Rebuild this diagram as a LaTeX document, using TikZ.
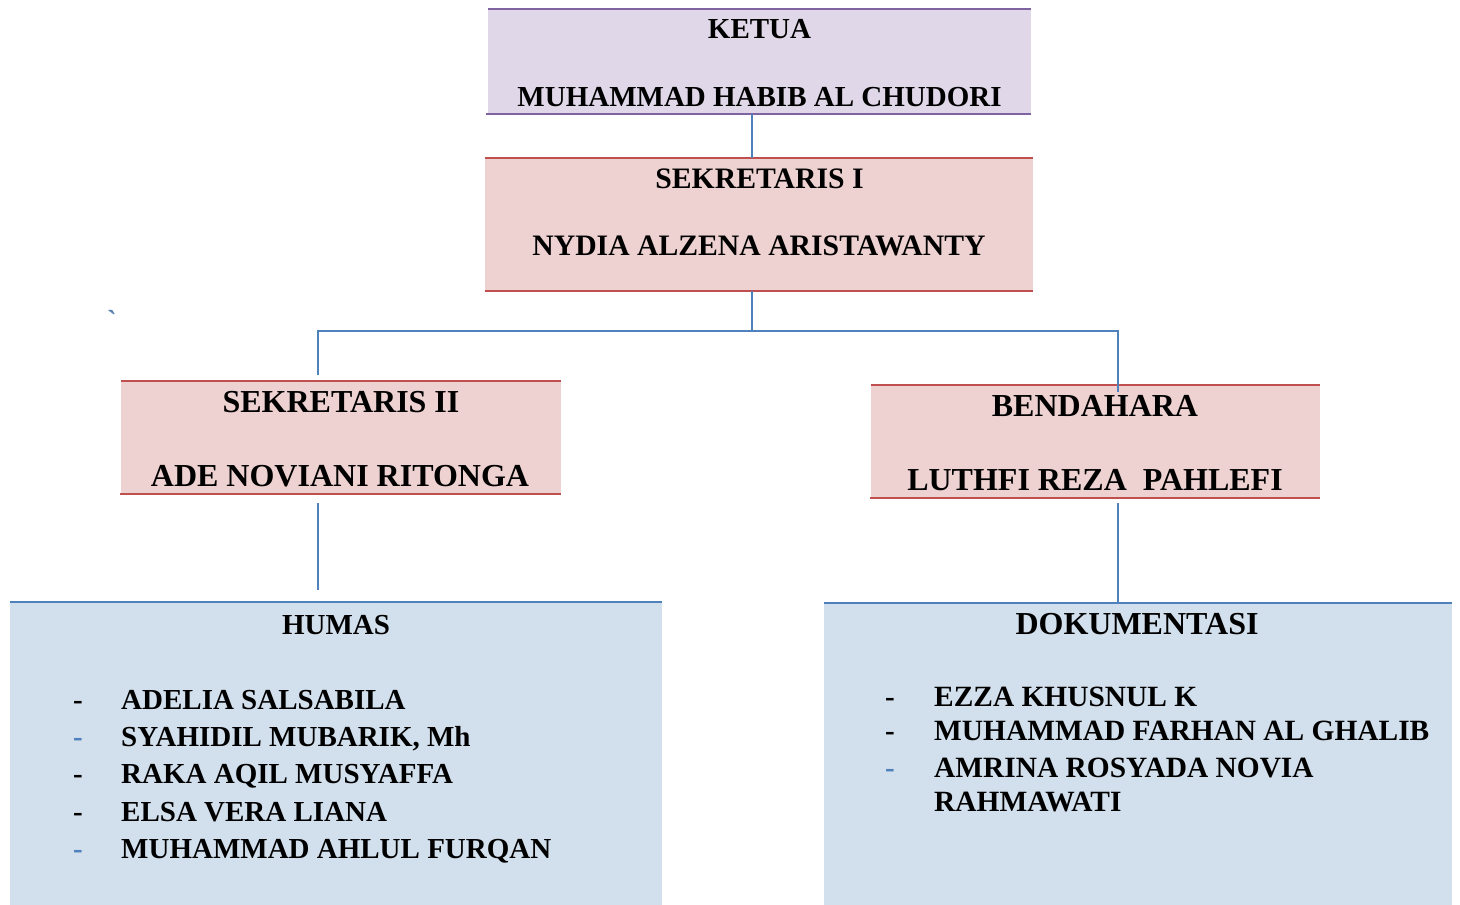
\documentclass[tikz,border=0pt]{standalone}
\usepackage{fontspec}
\setmainfont{Liberation Serif}
\newfontfamily\plainserif{Liberation Serif}
\definecolor{lavfill}{RGB}{224,216,233}
\definecolor{purpline}{RGB}{128,100,162}
\definecolor{pinkfill}{RGB}{238,209,209}
\definecolor{redline}{RGB}{192,80,77}
\definecolor{bluefill}{RGB}{210,223,236}
\definecolor{blueline}{RGB}{79,129,189}
\begin{document}
\begin{tikzpicture}[x=1pt,y=-1pt,
  box/.style={inner sep=0pt,outer sep=0pt,draw=none},
  lbl/.style={inner sep=0pt,anchor=base,font=\fontsize{29}{34}\selectfont\bfseries},
  lblb/.style={inner sep=0pt,anchor=base,font=\fontsize{29.7}{34}\selectfont\bfseries},
  lblc/.style={inner sep=0pt,anchor=base,font=\fontsize{32}{38}\selectfont\bfseries},
  item/.style={inner sep=0pt,anchor=base west,font=\fontsize{29}{34}\selectfont\bfseries},
  itemb/.style={inner sep=0pt,anchor=base west,font=\fontsize{29.4}{34}\selectfont\bfseries},
  dsh/.style={inner sep=0pt,anchor=base west,font=\fontsize{29}{34}\selectfont\bfseries},
  edge/.style={line width=1.6pt,blueline},
  rim/.style={line width=2.4pt}]
\useasboundingbox (0,0) rectangle (1460,905);
% boxes
\node[box,fill=lavfill,minimum width=543pt,minimum height=105pt] (ketua) at (759.5,61.5) {};
\node[box,fill=pinkfill,minimum width=548pt,minimum height=133pt] (sek1) at (759,224.5) {};
\node[box,fill=pinkfill,minimum width=440pt,minimum height=113pt] (sek2) at (341,437.5) {};
\node[box,fill=pinkfill,minimum width=449pt,minimum height=113pt] (bend) at (1095.5,441.5) {};
\node[box,fill=bluefill,minimum width=652pt,minimum height=303pt] (humas) at (336,753.5) {};
\node[box,fill=bluefill,minimum width=628pt,minimum height=302pt] (dok) at (1138,754) {};
% rims
\draw[rim,purpline] (ketua.north west) -- (ketua.north east);
\draw[rim,purpline] ([xshift=-2pt]ketua.south west) -- (ketua.south east);
\draw[rim,redline] (sek1.north west) -- (sek1.north east);
\draw[rim,redline] (sek1.south west) -- (sek1.south east);
\draw[rim,redline] (sek2.north west) -- (sek2.north east);
\draw[rim,redline] ([xshift=-1pt]sek2.south west) -- (sek2.south east);
\draw[rim,redline] (bend.north west) -- (bend.north east);
\draw[rim,redline] ([xshift=-1pt]bend.south west) -- (bend.south east);
\draw[rim,blueline] (humas.north west) -- (humas.north east);
\draw[rim,blueline] (dok.north west) -- (dok.north east);
% connectors
\coordinate (j) at (752,331);
\coordinate (s2top) at (318,375);
\coordinate (bdtop) at (1118,392);
\coordinate (s2bot) at (318,503);
\coordinate (humtop) at (318,590);
\coordinate (bdbot) at (1118,503);
\coordinate (doktop) at (1118,604);
\draw[edge] (ketua.south -| j) -- (sek1.north -| j);
\draw[edge] (sek1.south -| j) -- (j);
\draw[edge] (j) -| (s2top);
\draw[edge] (j) -| (bdtop);
\draw[edge] (s2bot) -- (humtop);
\draw[edge] (bdbot) -- (doktop);
% stray mark
\node[inner sep=0pt,anchor=base,text=blueline!80!gray,font=\fontsize{29}{34}\selectfont\plainserif\bfseries] (tick) at (112,330) {`};
% labels
\node[lbl] (t1a) at (759.5,38) {KETUA};
\node[lbl] (t1b) at (759.5,106) {MUHAMMAD HABIB AL CHUDORI};
\node[lblb] (t2a) at (759.5,188) {SEKRETARIS I};
\node[lblb] (t2b) at (759,255) {NYDIA ALZENA ARISTAWANTY};
\node[lblc] (t3a) at (341,412) {SEKRETARIS II};
\node[lblc] (t3b) at (340,486) {ADE NOVIANI RITONGA};
\node[lblc] (t4a) at (1095,416) {BENDAHARA};
\node[lblc] (t4b) at (1095,490) {LUTHFI REZA\ \ PAHLEFI};
\node[lbl] (t5a) at (336,634) {HUMAS};
\node[lblc] (t6a) at (1137,634) {DOKUMENTASI};
% humas list
\node[dsh] (hd1) at (73,709) {-};
\node[dsh,text=blueline] (hd2) at (73,746) {-};
\node[dsh] (hd3) at (73,783) {-};
\node[dsh] (hd4) at (73,821) {-};
\node[dsh,text=blueline] (hd5) at (73,858) {-};
\node[item] (h1) at (121,709) {ADELIA SALSABILA};
\node[item] (h2) at (121,746) {SYAHIDIL MUBARIK, Mh};
\node[item] (h3) at (121,783) {RAKA AQIL MUSYAFFA};
\node[item] (h4) at (121,821) {ELSA VERA LIANA};
\node[item] (h5) at (121,858) {MUHAMMAD AHLUL FURQAN};
% dok list
\node[dsh] (dd1) at (885,706) {-};
\node[dsh] (dd2) at (885,740) {-};
\node[dsh,text=blueline] (dd3) at (885,777) {-};
\node[itemb] (d1) at (934,706) {EZZA KHUSNUL K};
\node[itemb] (d2) at (934,740) {MUHAMMAD FARHAN AL GHALIB};
\node[itemb] (d3) at (934,777) {AMRINA ROSYADA NOVIA};
\node[itemb] (d4) at (934,811) {RAHMAWATI};
\end{tikzpicture}
\end{document}
